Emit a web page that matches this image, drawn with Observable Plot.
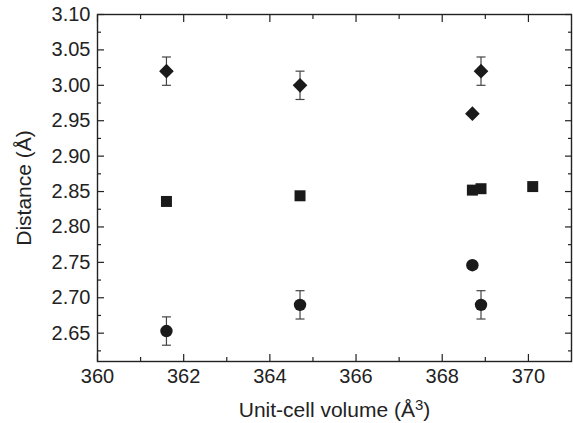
<!DOCTYPE html>
<html>
<head>
<meta charset="utf-8">
<script src="https://cdn.jsdelivr.net/npm/d3@7"></script>
<script src="https://cdn.jsdelivr.net/npm/@observablehq/plot@0.6"></script>
<style>
  html, body { margin: 0; padding: 0; background: #fff; }
  #chart svg { display: block; }
</style>
</head>
<body>
<div id="chart"></div>
<script>
// ---- Data ----
const diamondX   = [361.6, 364.7, 368.9, 368.7];
const diamondY   = [3.02, 3.00, 3.02, 2.96];
const diamondErr = [0.02, 0.02, 0.02, 0];

const squareX = [361.6, 364.7, 368.7, 368.9, 370.1];
const squareY = [2.836, 2.844, 2.852, 2.854, 2.857];

const circleX   = [361.6, 364.7, 368.9, 368.7];
const circleY   = [2.653, 2.690, 2.690, 2.746];
const circleErr = [0.02, 0.02, 0.02, 0];

// ---- Axes / ticks ----
const xDomain = [360, 371];
const yDomain = [2.61, 3.10];
const xMajorTicks = [360, 362, 364, 366, 368, 370];
const xMinorTicks = [361, 363, 365, 367, 369];
const yMajorTicks = [2.65, 2.70, 2.75, 2.80, 2.85, 2.90, 2.95, 3.00, 3.05, 3.10];
const yMinorTicks = [2.625, 2.675, 2.725, 2.775, 2.825, 2.875, 2.925, 2.975, 3.025, 3.075];
const xTitleParts = ["Unit-cell volume (Å", "3", ")"];  // middle part is a superscript
const yTitle = "Distance (Å)";

// ---- Build tables ----
const diamonds = diamondX.map((x, i) => ({x, y: diamondY[i], err: diamondErr[i]}));
const squares  = squareX.map((x, i) => ({x, y: squareY[i]}));
const circles  = circleX.map((x, i) => ({x, y: circleY[i], err: circleErr[i]}));
const withErr = [...diamonds, ...circles].filter(d => d.err > 0);

// small horizontal cap symbol for error bars
const capSymbol = {
  draw(context) { context.moveTo(-4.5, 0); context.lineTo(4.5, 0); }
};

const ink = "#1a1a1a";
const axisInk = "#222";
const fontFamily = "'Liberation Sans', Arial, Helvetica, sans-serif";
const noText = () => "";
const MAJ = 7, MIN = 4;
const xTitle = xTitleParts.join("");

const chart = Plot.plot({
  width: 573,
  height: 423,
  marginLeft: 97,
  marginRight: 2,
  marginTop: 14,
  marginBottom: 62,
  style: {fontFamily, fontSize: "20px", color: axisInk, background: "#fff"},
  x: {domain: xDomain},
  y: {domain: yDomain},
  marks: [
    // error bars
    Plot.link(withErr, {x1: "x", x2: "x", y1: d => d.y - d.err, y2: d => d.y + d.err, stroke: "#444", strokeWidth: 1.2}),
    Plot.dot(withErr, {x: "x", y: d => d.y + d.err, symbol: capSymbol, stroke: "#444", strokeWidth: 1.2, fill: "none"}),
    Plot.dot(withErr, {x: "x", y: d => d.y - d.err, symbol: capSymbol, stroke: "#444", strokeWidth: 1.2, fill: "none"}),
    // markers
    Plot.dot(diamonds, {x: "x", y: "y", symbol: "diamond2", r: 6.6, fill: ink, stroke: "none"}),
    Plot.dot(squares,  {x: "x", y: "y", symbol: "square",   r: 6.2, fill: ink, stroke: "none"}),
    Plot.dot(circles,  {x: "x", y: "y", symbol: "circle",   r: 6.2, fill: ink, stroke: "none"}),

    // tick labels
    Plot.axisY(yMajorTicks, {anchor: "left", tickSize: 0, tickPadding: 7, tickFormat: d3.format(".2f"), fontSize: 20, label: null}),
    Plot.axisX(xMajorTicks, {anchor: "bottom", tickSize: 0, tickPadding: 7, tickFormat: d3.format("d"), fontSize: 20, label: null}),
    // axis titles
    Plot.axisY([], {anchor: "left", tickSize: 0, fontSize: 21,
      label: yTitle, labelAnchor: "center", labelArrow: "none", labelOffset: 81}),
    Plot.axisX([], {anchor: "bottom", tickSize: 0, fontSize: 21,
      label: xTitle, labelAnchor: "center", labelArrow: "none", labelOffset: 55}),

    // inward ticks: left
    Plot.axisY(yMajorTicks, {anchor: "left", tickSize: MAJ, dx: MAJ, tickFormat: noText, label: null, stroke: axisInk, strokeWidth: 1.2}),
    Plot.axisY(yMinorTicks, {anchor: "left", tickSize: MIN, dx: MIN, tickFormat: noText, label: null, stroke: axisInk, strokeWidth: 1.2}),
    // right
    Plot.axisY(yMajorTicks, {anchor: "right", tickSize: MAJ, dx: -MAJ, tickFormat: noText, label: null, stroke: axisInk, strokeWidth: 1.2}),
    Plot.axisY(yMinorTicks, {anchor: "right", tickSize: MIN, dx: -MIN, tickFormat: noText, label: null, stroke: axisInk, strokeWidth: 1.2}),
    // bottom
    Plot.axisX(xMajorTicks, {anchor: "bottom", tickSize: MAJ, dy: -MAJ, tickFormat: noText, label: null, stroke: axisInk, strokeWidth: 1.2}),
    Plot.axisX(xMinorTicks, {anchor: "bottom", tickSize: MIN, dy: -MIN, tickFormat: noText, label: null, stroke: axisInk, strokeWidth: 1.2}),
    // top
    Plot.axisX(xMajorTicks, {anchor: "top", tickSize: MAJ, dy: MAJ, tickFormat: noText, label: null, stroke: axisInk, strokeWidth: 1.2}),
    Plot.axisX(xMinorTicks, {anchor: "top", tickSize: MIN, dy: MIN, tickFormat: noText, label: null, stroke: axisInk, strokeWidth: 1.2}),

    Plot.frame({stroke: axisInk, strokeWidth: 1.4})
  ]
});

// Render the "3" of the x title as a real superscript
chart.querySelectorAll("text").forEach(t => {
  if (t.textContent === xTitle) {
    const ns = "http://www.w3.org/2000/svg";
    t.textContent = "";
    const a = document.createElementNS(ns, "tspan");
    a.textContent = xTitleParts[0];
    const b = document.createElementNS(ns, "tspan");
    b.textContent = xTitleParts[1];
    b.setAttribute("font-size", "15");
    b.setAttribute("dy", "-7");
    const c = document.createElementNS(ns, "tspan");
    c.textContent = xTitleParts[2];
    c.setAttribute("dy", "7");
    t.append(a, b, c);
  }
});

document.getElementById("chart").appendChild(chart);
</script>
</body>
</html>
